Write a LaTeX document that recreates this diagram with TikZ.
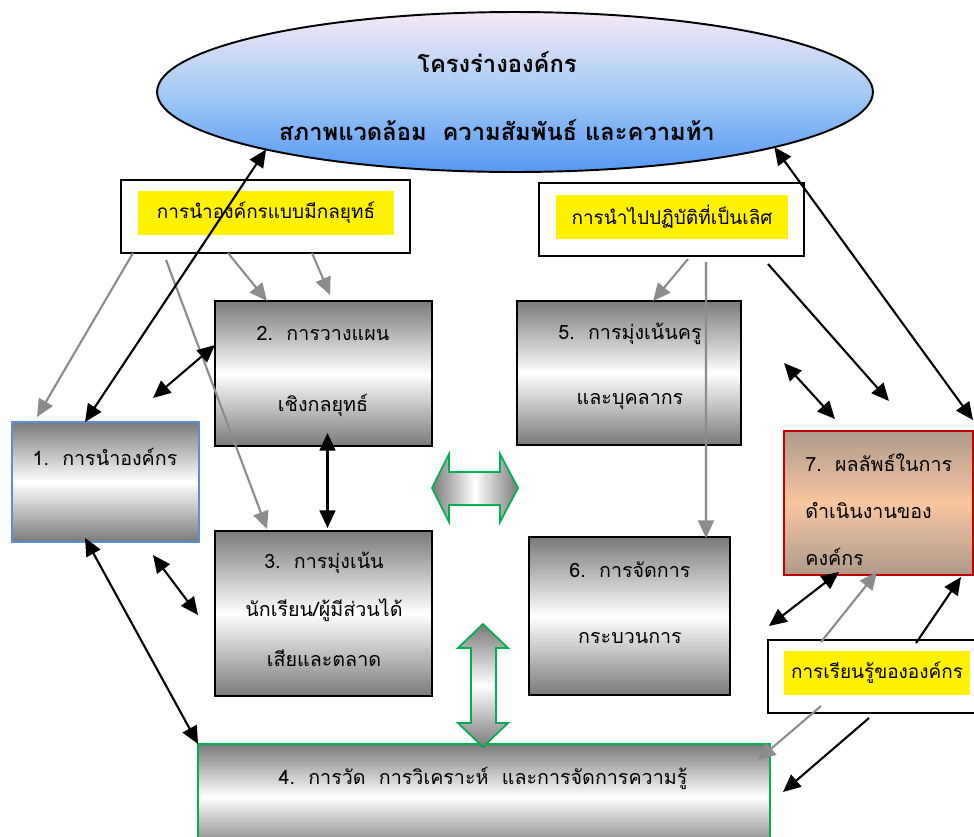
\documentclass[tikz,border=0pt]{standalone}
\usepackage{fontspec}
\setmainfont[Script=Thai]{Loma}
\usepackage{tikz}
\usetikzlibrary{shapes,arrows,arrows.meta}
\usetikzlibrary{calc}
\usetikzlibrary{positioning}

\definecolor{envtop}{HTML}{F6E8F6}
\definecolor{envmid}{HTML}{A3CBF4}
\definecolor{envbot}{HTML}{5597F4}
\definecolor{boxgray}{HTML}{7A7A7A}
\definecolor{linegray}{HTML}{8C8C8C}
\definecolor{fatgreen}{HTML}{00B050}
\definecolor{leadblue}{HTML}{5B8FD9}
\definecolor{resred}{HTML}{C00000}
\definecolor{restop}{HTML}{AE9A8A}
\definecolor{resmid}{HTML}{F8C6A0}

\begin{document}
\begin{tikzpicture}[x=0.02cm, y=-0.02cm, >={Triangle[length=10pt,width=9pt]},
	grad_box/.style={rectangle, draw=black, line width=1.1pt, inner sep=0pt, outer sep=0pt,
		top color=boxgray, bottom color=boxgray, middle color=white},
	tag_box/.style={rectangle, draw=black, line width=1.1pt, fill=white, inner sep=0pt, outer sep=0pt},
	tag_text/.style={rectangle, fill=yellow, inner sep=0pt, font=\fontsize{10.8}{13}\selectfont},
	box_text/.style={inner sep=0pt, font=\fontsize{11.2}{13}\selectfont},
	black_line/.style={draw=black, line width=1.2pt},
	gray_line/.style={draw=linegray, line width=1.2pt},
	fat_arrow/.style={draw=fatgreen, line width=1pt}]

	\useasboundingbox (0,0) rectangle (974,836);

	% environment ellipse
	\node[ellipse, draw=black, line width=1.1pt, minimum width=14.32cm, minimum height=3.2cm, inner sep=0pt, outer sep=0pt,
		top color=envtop, bottom color=envbot, middle color=envmid] (env) at (515,92) {};
	\node[font=\fontsize{13.5}{15}\selectfont\bfseries] (env_t1) at (497,62) {โครงร่างองค์กร};
	\node[font=\fontsize{13.5}{15}\selectfont\bfseries] (env_t2) at (497,130) {สภาพแวดล้อม~~ความสัมพันธ์ และความท้า};

	% yellow tags
	\node[tag_box, minimum width=5.78cm, minimum height=1.46cm] (lead) at (265.5,216.5) {};
	\node[tag_text, minimum width=5.12cm, minimum height=0.88cm] (lead_t) at (266,213) {การนำองค์กรแบบมีกลยุทธ์};
	\node[tag_box, minimum width=5.30cm, minimum height=1.46cm] (excel) at (671.5,219.5) {};
	\node[tag_text, minimum width=4.64cm, minimum height=0.88cm] (excel_t) at (672,217) {การนำไปปฏิบัติที่เป็นเลิศ};
	\node[tag_box, minimum width=4.44cm, minimum height=1.46cm] (learn) at (879,676.5) {};
	\node[tag_text, minimum width=3.72cm, minimum height=0.88cm] (learn_t) at (877,673) {การเรียนรู้ขององค์กร};

	% category boxes
	\node[grad_box, draw=leadblue, minimum width=3.74cm, minimum height=2.40cm] (b1) at (105.5,482) {};
	\node[grad_box, minimum width=4.34cm, minimum height=2.90cm] (b2) at (323.5,373.5) {};
	\node[grad_box, minimum width=4.34cm, minimum height=3.30cm] (b3) at (323.5,613.5) {};
	\node[grad_box, draw=fatgreen, minimum width=11.44cm, minimum height=2.12cm] (b4) at (484,797) {};
	\node[grad_box, minimum width=4.48cm, minimum height=2.88cm] (b5) at (629,373) {};
	\node[grad_box, minimum width=4.02cm, minimum height=3.16cm] (b6) at (629.5,616) {};
	\node[grad_box, draw=resred, top color=restop, bottom color=restop, middle color=resmid,
		minimum width=3.78cm, minimum height=2.88cm] (b7) at (878.5,503) {};

	\node[box_text] (b1_t) at (105,457) {1.\ \ การนำองค์กร};
	\node[box_text] (b2_t1) at (323,333) {2.\ \ การวางแผน};
	\node[box_text] (b2_t2) at (323,405) {เชิงกลยุทธ์};
	\node[box_text] (b3_t1) at (324,563) {3.\ \ การมุ่งเน้น};
	\node[box_text] (b3_t2) at (324,610) {นักเรียน/ผู้มีส่วนได้};
	\node[box_text] (b3_t3) at (324,658) {เสียและตลาด};
	\node[box_text] (b4_t) at (483,778) {4.\ \ การวัด\ \ การวิเคราะห์\ \ และการจัดการความรู้};
	\node[box_text] (b5_t1) at (630,334) {5.\ \ การมุ่งเน้นครู};
	\node[box_text] (b5_t2) at (630,402) {และบุคลากร};
	\node[box_text] (b6_t1) at (630,570) {6.\ \ การจัดการ};
	\node[box_text] (b6_t2) at (630,638) {กระบวนการ};
	\node[box_text, anchor=west] (b7_t1) at (805,463) {7.\ \ ผลลัพธ์ในการ};
	\node[box_text, anchor=west] (b7_t2) at (805,511) {ดำเนินงานของ};
	\node[box_text, anchor=west] (b7_t3) at (805,557) {คงค์กร};

	% fat arrows
	\path[fat_arrow, left color=boxgray, right color=boxgray, middle color=white]
		(432,488) -- (449,454) -- (449,472) -- (500,472) -- (500,454) -- (518,488)
		-- (500,522) -- (500,505) -- (449,505) -- (449,522) -- cycle;
	\path[fat_arrow, top color=boxgray, bottom color=boxgray, middle color=white]
		(483,624) -- (508,648) -- (496,648) -- (496,723) -- (508,723) -- (483,747)
		-- (458,723) -- (471,723) -- (471,648) -- (458,648) -- cycle;

	% free ends
	\coordinate (p1) at (153,398);
	\coordinate (p2) at (153,555);
	\coordinate (p3) at (198,615);
	\coordinate (p4) at (768,264);
	\coordinate (p5) at (889,401);
	\coordinate (p6) at (784,363);
	\coordinate (p7) at (835,419);
	\coordinate (p8) at (769,626);
	\coordinate (p9) at (783,792);

	% gray arrows
	\draw[gray_line, ->] ($(lead.south west)+(12,0)$) -- ($(b1.north west)+(25,-5)$);
	\draw[gray_line, ->] ($(lead.south west)+(45,7)$) -- ($(b3.north west)+(52,-2)$);
	\draw[gray_line, ->] ($(lead.south west)+(107,0)$) -- ($(b2.north west)+(52,0)$);
	\draw[gray_line, ->] ($(lead.south west)+(191,0)$) -- ($(b2.north west)+(115,-6)$);
	\draw[gray_line, ->] ($(excel.south west)+(149,3)$) -- ($(b5.north west)+(136,0)$);
	\draw[gray_line, ->] ($(excel.south west)+(167,6)$) -- ($(b6.north west)+(177,1)$);
	\draw[gray_line, ->] ($(learn.north west)+(53,2)$) -- ($(b7.south west)+(93,-3)$);
	\draw[gray_line, ->] ($(learn.south west)+(53,-7)$) -- ($(b4.north east)+(-12,16)$);

	% black arrows
	\draw[black_line, <->] (env.193) -- ($(b1.north west)+(73,0)$);
	\draw[black_line, <->] ($(b2.north west)+(0,44)$) -- (p1);
	\draw[black_line, <->] ($(b2.south)+(4,-13)$) -- ($(b3.north)+(4,-3)$);
	\draw[black_line, <->] (p2) -- (p3);
	\draw[black_line, <->] ($(b1.south west)+(73,-4)$) -- (b4.north west);
	\draw[black_line, <->] (env.-12) -- ($(b7.north east)+(0,-11)$);
	\draw[black_line, ->] (p4) -- (p5);
	\draw[black_line, <->] (p6) -- (p7);
	\draw[black_line, <->] ($(b7.south west)+(55,-3)$) -- (p8);
	\draw[black_line, ->] ($(learn.north west)+(148,3)$) -- ($(b7.south east)+(-12,2)$);
	\draw[black_line, ->] ($(learn.south west)+(101,5)$) -- (p9);
\end{tikzpicture}
\end{document}
